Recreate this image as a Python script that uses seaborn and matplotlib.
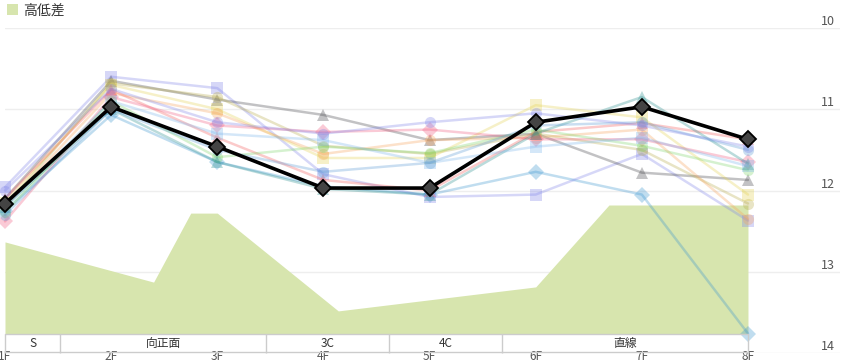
import numpy as np
import pandas as pd
import matplotlib
matplotlib.use('Agg')
import matplotlib.pyplot as plt
import seaborn as sns

# odcinki 1F..8F
furlongs = ['1F', '2F', '3F', '4F', '5F', '6F', '7F', '8F']

# wyróżniona seria (gruba czarna linia)
main_laps = [12.16, 10.97, 11.46, 11.97, 11.97, 11.16, 10.97, 11.37]

# pozostałe serie (półprzezroczyste)
s01 = [12.25, 11.07, 11.65, 11.95, 12.05, 11.77, 12.05, 13.76]
s02 = [11.96, 10.60, 10.74, 11.80, 12.08, 12.05, 11.55, 12.37]
s03 = [12.10, 10.65, 10.88, 11.07, 11.38, 11.30, 11.78, 11.87]
s04 = [12.20, 10.68, 10.85, 11.45, 11.55, 11.30, 11.50, 12.16]
s05 = [12.15, 10.70, 11.00, 11.60, 11.60, 10.95, 11.10, 12.05]
s06 = [12.20, 10.80, 11.05, 11.55, 11.38, 11.35, 11.25, 12.35]
s07 = [12.10, 10.76, 11.35, 11.87, 12.00, 11.28, 11.17, 11.37]
s08 = [12.38, 10.85, 11.20, 11.28, 11.25, 11.37, 11.37, 11.65]
s09 = [12.27, 10.90, 11.59, 11.46, 11.54, 11.25, 11.45, 11.75]
s10 = [12.20, 11.00, 11.65, 11.98, 12.05, 11.30, 10.85, 11.67]
s11 = [12.20, 10.90, 11.30, 11.38, 11.66, 11.46, 11.35, 11.70]
s12 = [12.30, 11.00, 11.50, 11.77, 11.66, 11.20, 11.16, 11.50]
s13 = [12.00, 10.75, 11.16, 11.30, 11.16, 11.05, 11.20, 11.46]
others = [s01, s02, s03, s04, s05, s06, s07, s08, s09, s10, s11, s12, s13]

series_colors = ['#3d96d0', '#8085e9', '#434348', '#b8ab4c', '#e4d354', '#f7a35c', '#f45b5b',
                 '#f15c80', '#7fd66b', '#2b908f', '#7cb5ec', '#5a9bd5', '#8085e9']
series_markers = ['D', 's', '^', 'o', 's', 'o', '^', 'D', 'o', '^', 's', 'o', 'o']

# profil wysokości (高低差): pozycja w furlongach od 1F, wysokość w metrach
elev_x = [0, 1.40, 1.75, 2.0, 3.14, 5.0, 5.69, 7.0]
elev_m = [3.07, 1.73, 4.03, 4.03, 0.77, 1.57, 4.30, 4.30]

# sekcje toru
sections = ['S', '向正面', '3C', '4C', '直線']
section_bounds = [0, 0.52, 2.46, 3.62, 4.68, 7.0]

sns.set_style('white')
plt.rcParams['font.family'] = ['Noto Sans CJK JP', 'DejaVu Sans']

x = np.arange(len(furlongs))
rows = []
for i, vals in enumerate(others):
    for xi, v in zip(x, vals):
        rows.append({'seria': f's{i}', 'x': xi, 'lap': v})
df = pd.DataFrame(rows)
names = [f's{i}' for i in range(len(others))]

fig = plt.figure(figsize=(8.43, 3.64), dpi=100)
ax = fig.add_axes([5 / 843, 11 / 364, 835 / 843, 325 / 364])
ax.set_xlim(0, 7.867)
ax.set_ylim(14, 10)
ax.set_yticks([10, 11, 12, 13, 14])
ax.grid(axis='y', color='#eeeeee', lw=1)
ax.grid(axis='x', visible=False)
for sp in ax.spines.values():
    sp.set_visible(False)

# wysokość na osobnej osi
ax_e = ax.twinx()
ax_e.set_ylim(-0.633, 10.2)
ax_e.fill_between(elev_x, 0, elev_m, color='#d7e5ae', lw=0, label='高低差')
ax_e.axis('off')

# linie na trzeciej osi (nad wysokością)
ax_l = ax.twinx()
ax_l.set_ylim(14, 10)
ax_l.set_xlim(0, 7.867)
sns.lineplot(data=df, x='x', y='lap', hue='seria', style='seria', hue_order=names, style_order=names,
             palette=dict(zip(names, series_colors)), markers=dict(zip(names, series_markers)),
             dashes=False, estimator=None, lw=1.8, alpha=0.32, markersize=8, markeredgewidth=0,
             legend=False, clip_on=False, ax=ax_l)
sns.lineplot(x=x, y=main_laps, color='black', lw=2.6, marker='D', markersize=8,
             markerfacecolor='#444444', markeredgecolor='black', markeredgewidth=1.3,
             clip_on=False, ax=ax_l)
ax_l.axis('off')

# tabelka sekcji na dole
tr = ax_l.get_xaxis_transform()
tab_h = 19 / 325
ax_l.plot([section_bounds[0], section_bounds[-1]], [tab_h, tab_h], color='#cccccc', lw=1, transform=tr, clip_on=False)
ax_l.plot([section_bounds[0], section_bounds[-1]], [0.002, 0.002], color='#cccccc', lw=1, transform=tr, clip_on=False)
ax_l.vlines(section_bounds, 0, tab_h, color='#cccccc', lw=1, transform=tr, clip_on=False)
for name, a, b in zip(sections, section_bounds[:-1], section_bounds[1:]):
    ax_l.text((a + b) / 2, tab_h / 2, name, transform=tr, ha='center', va='center',
              fontsize=8.5, color='#333333')

# osie
ax.set_xticks(x)
ax.set_xticklabels(furlongs)
ax.yaxis.tick_right()
ax.tick_params(axis='x', length=0, pad=-2.5, labelsize=8.5, labelcolor='#555555')
ax.tick_params(axis='y', length=0, pad=-14, labelsize=9, labelcolor='#555555')
for lbl in ax.get_yticklabels():
    lbl.set_va('bottom')
ax.set_xlabel('')
ax.set_ylabel('')

fig.legend(*ax_e.get_legend_handles_labels(), loc='upper left', bbox_to_anchor=(0, 1.01),
           frameon=False, handlelength=0.8, handleheight=0.8, handletextpad=0.4,
           borderaxespad=0.1, fontsize=10, labelcolor='#333333')

fig.savefig('out.png', dpi=100)
